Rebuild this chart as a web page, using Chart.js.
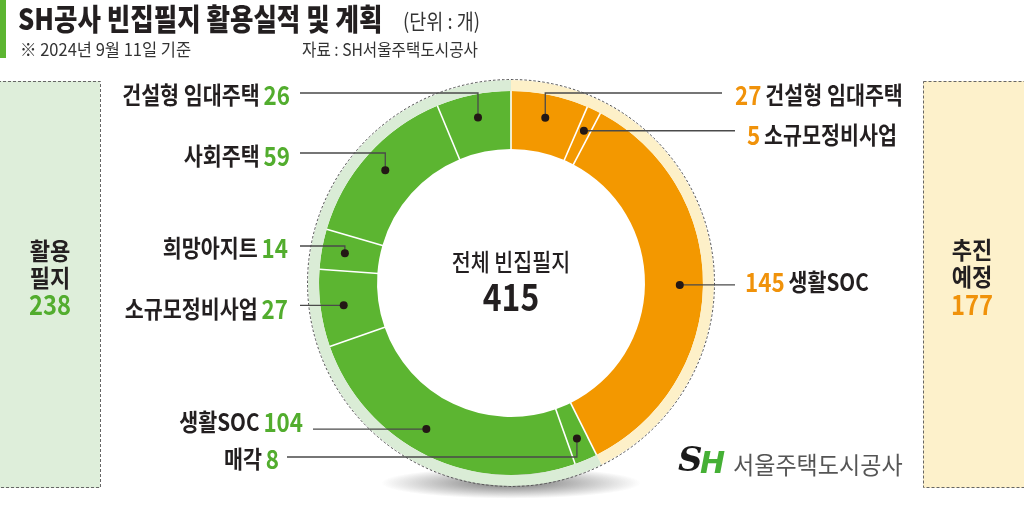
<!DOCTYPE html>
<html>
<head>
<meta charset="utf-8">
<script src="https://cdn.jsdelivr.net/npm/chart.js@4.4.1/dist/chart.umd.min.js"></script>
<style>
html, body { margin: 0; padding: 0; background: #fff; overflow: hidden; }
canvas { display: block; }
</style>
</head>
<body>
<canvas id="graphCanvas" width="1024" height="507"></canvas>
<script>
// data, clockwise from 12 o'clock
const categories = ['건설형 임대주택', '소규모정비사업', '생활SOC', '매각', '생활SOC', '소규모정비사업', '희망아지트', '사회주택', '건설형 임대주택'];
const values = [27, 5, 145, 8, 104, 27, 14, 59, 26];
const groups = ['plan', 'plan', 'plan', 'used', 'used', 'used', 'used', 'used', 'used'];
const groupNames = { plan: ['추진', '예정'], used: ['활용', '필지'] };
const totalLabel = '전체 빈집필지';

const title = 'SH공사 빈집필지 활용실적 및 계획';
const unitText = '(단위 : 개)';
const noteText = '※ 2024년 9월 11일 기준';
const sourceText = '자료 : SH서울주택도시공사';
const logoText = '서울주택도시공사';

const sumOf = g => values.filter((v, i) => groups[i] === g).reduce((a, b) => a + b, 0);
const planTotal = sumOf('plan');
const usedTotal = sumOf('used');
const grandTotal = planTotal + usedTotal;

const GREEN = '#5cb531';
const ORANGE = '#f39800';
const GREEN_TXT = '#52ad2e';
const ORANGE_TXT = '#f0920a';
const DARK = '#231f20';
const FONT = '"Noto Sans CJK KR", "Noto Sans", sans-serif';

// label layout: x is text end (left side) or text start (right side)
const labelLayout = [
  { side: 'R', x: 735, y: 95, lineY: 93, lineEnd: 722 },
  { side: 'R', x: 747, y: 135, lineY: null, lineEnd: 735 },
  { side: 'R', x: 745, y: 282, lineY: null, lineEnd: 735 },
  { side: 'L', x: 279, y: 459, lineY: 457, lineEnd: 287 },
  { side: 'L', x: 303, y: 422, lineY: null, lineEnd: 313, at: 0.55 },
  { side: 'L', x: 288, y: 309, lineY: null, lineEnd: 300 },
  { side: 'L', x: 288, y: 248, lineY: 246, lineEnd: 300 },
  { side: 'L', x: 290, y: 156, lineY: 153, lineEnd: 300 },
  { side: 'L', x: 290, y: 95, lineY: 93, lineEnd: 300 }
];

function drawRich(c, parts, x, y, align, sx) {
  c.save();
  c.textBaseline = 'middle';
  const widths = parts.map(p => {
    c.font = `${p.w || 500} ${p.s}px ${FONT}`;
    return c.measureText(p.t).width * sx;
  });
  const total = widths.reduce((a, b) => a + b, 0);
  let cx = align === 'right' ? x - total : align === 'center' ? x - total / 2 : x;
  parts.forEach((p, i) => {
    c.font = `${p.w || 500} ${p.s}px ${FONT}`;
    c.fillStyle = p.c || DARK;
    c.save();
    c.translate(cx, y);
    c.scale(sx, 1);
    c.fillText(p.t, 0, 0);
    c.restore();
    cx += widths[i];
  });
  c.restore();
}

const decor = {
  id: 'decor',
  beforeDraw(chart) {
    const c = chart.ctx;
    c.save();
    // side boxes
    c.fillStyle = '#deeeda';
    c.fillRect(0, 81, 100, 407);
    c.fillStyle = '#fdf1cb';
    c.fillRect(923, 81, 110, 407);
    c.strokeStyle = '#666';
    c.lineWidth = 1;
    c.setLineDash([3, 2]);
    c.strokeRect(-2, 81.5, 102.5, 406);
    c.strokeRect(923.5, 81.5, 110, 406);
    c.setLineDash([]);
    // title bar
    c.fillStyle = '#5cb531';
    c.fillRect(0, 0, 6, 58);
    c.restore();

    drawRich(c, [{ t: title, s: 30, w: 900 }], 18, 19, 'left', 0.85);
    drawRich(c, [{ t: unitText, s: 21, w: 400, c: '#333' }], 403, 21, 'left', 0.88);
    drawRich(c, [{ t: noteText, s: 17, w: 400, c: '#333' }], 20, 50, 'left', 0.97);
    drawRich(c, [{ t: sourceText, s: 17, w: 400, c: '#333' }], 302, 50, 'left', 0.92);

    // box texts
    drawRich(c, [{ t: groupNames.used[0], s: 24, w: 600 }], 50, 251, 'center', 0.92);
    drawRich(c, [{ t: groupNames.used[1], s: 24, w: 600 }], 50, 278, 'center', 0.92);
    drawRich(c, [{ t: String(usedTotal), s: 27, w: 600, c: GREEN_TXT }], 50, 305, 'center', 0.88);
    drawRich(c, [{ t: groupNames.plan[0], s: 24, w: 600 }], 972, 250, 'center', 0.92);
    drawRich(c, [{ t: groupNames.plan[1], s: 24, w: 600 }], 972, 277, 'center', 0.92);
    drawRich(c, [{ t: String(planTotal), s: 27, w: 600, c: ORANGE_TXT }], 972, 305, 'center', 0.88);

    // logo
    c.save();
    c.textBaseline = 'middle';
    c.font = `italic 900 34px "DejaVu Serif", serif`;
    c.fillStyle = '#1a1a1a';
    c.fillText('S', 678, 462);
    c.font = `italic 700 30px "DejaVu Sans", sans-serif`;
    c.fillStyle = '#45b035';
    c.fillText('H', 700, 465);
    c.restore();
    drawRich(c, [{ t: logoText, s: 24, w: 400, c: '#555' }], 733, 465, 'left', 0.96);
  },
  beforeDatasetsDraw(chart) {
    const c = chart.ctx;
    const arc = chart.getDatasetMeta(0).data[0];
    if (!arc) return;
    c.save();
    c.translate(arc.x, arc.y + 200);
    c.scale(1, 0.12);
    const g = c.createRadialGradient(0, 0, 0, 0, 0, 130);
    g.addColorStop(0, 'rgba(60,60,60,0.7)');
    g.addColorStop(1, 'rgba(60,60,60,0)');
    c.fillStyle = g;
    c.beginPath();
    c.arc(0, 0, 130, 0, Math.PI * 2);
    c.fill();
    c.restore();
  },
  afterDatasetsDraw(chart) {
    const c = chart.ctx;
    const outer = chart.getDatasetMeta(0).data[0];
    const arcs = chart.getDatasetMeta(1).data;
    c.save();
    // dashed outer edge
    c.strokeStyle = '#555';
    c.lineWidth = 1;
    c.setLineDash([2.5, 2]);
    c.beginPath();
    c.arc(outer.x, outer.y, outer.outerRadius + 0.5, 0, Math.PI * 2);
    c.stroke();
    c.setLineDash([]);
    // white separators between segments
    c.strokeStyle = '#fff';
    c.lineWidth = 1.6;
    arcs.forEach(a => {
      const ang = a.startAngle;
      c.beginPath();
      c.moveTo(a.x + Math.cos(ang) * (a.innerRadius - 1), a.y + Math.sin(ang) * (a.innerRadius - 1));
      c.lineTo(a.x + Math.cos(ang) * a.outerRadius, a.y + Math.sin(ang) * a.outerRadius);
      c.stroke();
    });
    // leader lines and dots
    arcs.forEach((a, i) => {
      const L = labelLayout[i];
      const f = L.at !== undefined ? L.at : 0.5;
      const ang = a.startAngle + (a.endAngle - a.startAngle) * f;
      const r = a.innerRadius + 0.6 * (a.outerRadius - a.innerRadius);
      const dx = a.x + Math.cos(ang) * r;
      const dy = a.y + Math.sin(ang) * r;
      const ly = L.lineY === null ? dy : L.lineY;
      c.strokeStyle = '#4a4a4a';
      c.lineWidth = 1.3;
      c.beginPath();
      c.moveTo(L.lineEnd, ly);
      c.lineTo(dx, ly);
      c.lineTo(dx, dy);
      c.stroke();
      c.fillStyle = '#231815';
      c.beginPath();
      c.arc(dx, dy, 4, 0, Math.PI * 2);
      c.fill();
    });
    c.restore();

    // labels
    arcs.forEach((a, i) => {
      const L = labelLayout[i];
      const numCol = groups[i] === 'plan' ? ORANGE_TXT : GREEN_TXT;
      const name = { t: categories[i], s: 24, w: 600 };
      const num = { t: String(values[i]), s: 26, w: 700, c: numCol };
      const gap = { t: ' ', s: 20, w: 500 };
      if (L.side === 'L') drawRich(c, [name, gap, num], L.x, L.y, 'right', 0.86);
      else drawRich(c, [num, gap, name], L.x, L.y, 'left', 0.86);
    });

    // center
    drawRich(c, [{ t: totalLabel, s: 24, w: 500 }], outer.x, 262, 'center', 0.86);
    drawRich(c, [{ t: String(grandTotal), s: 38, w: 700 }], outer.x, 297, 'center', 0.84);
  }
};

const ctx = document.getElementById('graphCanvas').getContext('2d');
new Chart(ctx, {
  type: 'doughnut',
  data: {
    labels: categories,
    datasets: [
      {
        data: [planTotal, usedTotal],
        backgroundColor: ['#fdf0c8', '#daecd6'],
        borderWidth: 0,
        weight: 11
      },
      {
        data: values,
        backgroundColor: groups.map(g => g === 'plan' ? ORANGE : GREEN),
        borderWidth: 0,
        weight: 58
      }
    ]
  },
  options: {
    responsive: false,
    animation: false,
    cutout: '66%',
    layout: { padding: { left: 308, right: 310, top: 80, bottom: 21 } },
    plugins: {
      legend: { display: false },
      tooltip: { enabled: false }
    }
  },
  plugins: [decor]
});
</script>
</body>
</html>
